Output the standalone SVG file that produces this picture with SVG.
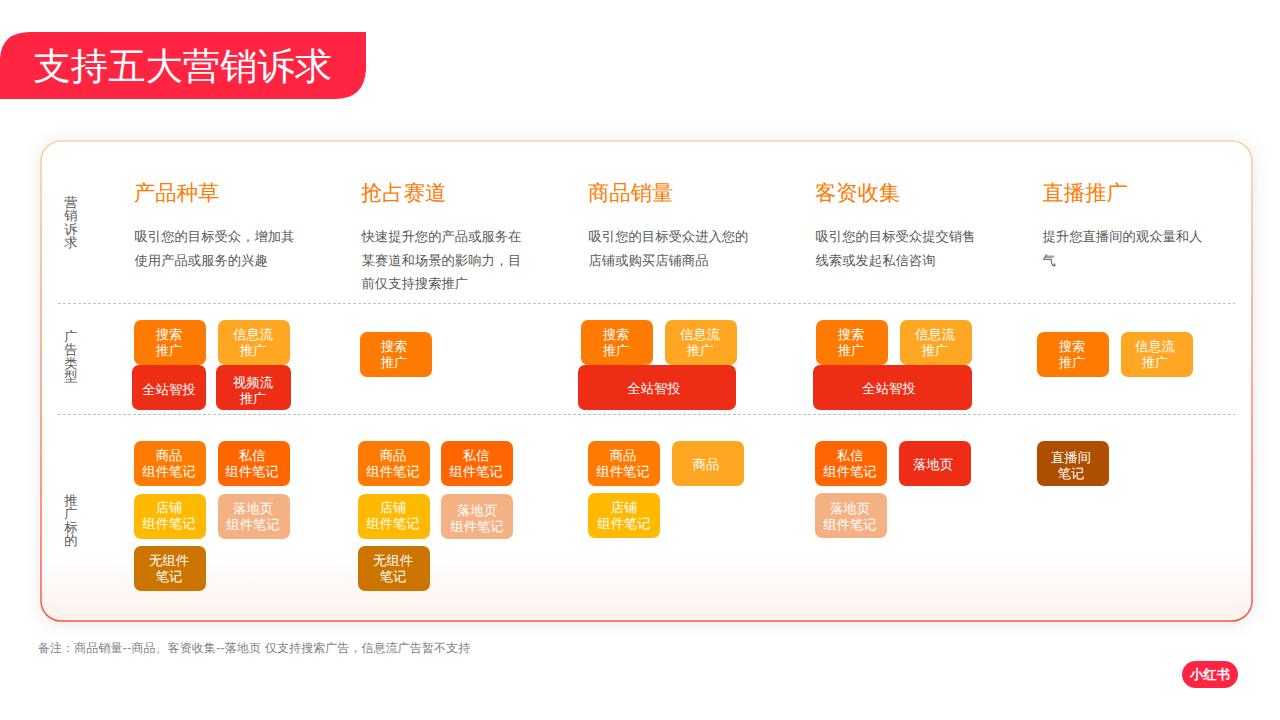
<svg xmlns="http://www.w3.org/2000/svg" width="1280" height="720" viewBox="0 0 1280 720">
<style>
text{font-family:"DejaVu Sans",sans-serif;text-rendering:geometricPrecision}
.h{font-size:21.33px;fill:#FF7A00}
.b{font-size:13.33px;fill:#595959}
.v{font-size:13.33px;fill:#595959;text-anchor:middle}
.t{font-size:13.33px;fill:#fff;text-anchor:middle}
.d{stroke:#bfbfbf;stroke-width:1;stroke-dasharray:3 2;fill:none}
.o{fill:#FF7A00}.a{fill:#FFA722}.r{fill:#EE2D16}.p{fill:#FF6600}.y{fill:#FFBA00}.s{fill:#F4B183}.n{fill:#CC7400}.l{fill:#AD4E00}
</style>
<defs>
<linearGradient id="st" x1="0" y1="0" x2="0" y2="1"><stop offset="0" stop-color="#FBD0A0"/><stop offset="1" stop-color="#FF5248"/></linearGradient>
<linearGradient id="fl" x1="0" y1="0" x2="0" y2="1"><stop offset="0.86" stop-color="#fff"/><stop offset="1" stop-color="#FEF2EC"/></linearGradient>
<filter id="sh" x="-5%" y="-10%" width="110%" height="120%"><feDropShadow dx="0" dy="2" stdDeviation="9" flood-color="#000" flood-opacity="0.09"/></filter>
</defs>
<rect width="1280" height="720" fill="#fff"/>
<g id="title">
<path d="M0 99V58Q2 32 30 32H366V70Q364 99 335 99Z" fill="#FF2442"/>
<text x="33.500" y="79" font-size="37.33" fill="#fff">支持五大营销诉求</text>
</g>
<g id="card"><rect x="41" y="141" width="1211" height="480" rx="20" fill="url(#fl)" stroke="url(#st)" stroke-width="1.5" filter="url(#sh)"/></g>
<g id="dividers"><path class="d" d="M58 303.5H1235"/><path class="d" d="M58 414.5H1235"/></g>
<g id="row-labels">
<text class="v"><tspan x="71" y="207">营</tspan><tspan x="71" y="220.300">销</tspan><tspan x="71" y="233.600">诉</tspan><tspan x="71" y="246.900">求</tspan></text>
<text class="v"><tspan x="71" y="341">广</tspan><tspan x="71" y="354.300">告</tspan><tspan x="71" y="367.600">类</tspan><tspan x="71" y="380.900">型</tspan></text>
<text class="v"><tspan x="71" y="505">推</tspan><tspan x="71" y="518.300">广</tspan><tspan x="71" y="531.600">标</tspan><tspan x="71" y="544.900">的</tspan></text>
</g>
<g id="col1-head"><text class="h" x="134" y="200">产品种草</text><text class="b" x="134.500" y="241">吸引您的目标受众，增加其</text><text class="b" x="134.500" y="265">使用产品或服务的兴趣</text></g>
<g id="col2-head"><text class="h" x="361" y="200">抢占赛道</text><text class="b" x="361.500" y="241">快速提升您的产品或服务在</text><text class="b" x="361.500" y="265">某赛道和场景的影响力，目</text><text class="b" x="361.500" y="288">前仅支持搜索推广</text></g>
<g id="col3-head"><text class="h" x="588" y="200">商品销量</text><text class="b" x="588.500" y="241">吸引您的目标受众进入您的</text><text class="b" x="588.500" y="265">店铺或购买店铺商品</text></g>
<g id="col4-head"><text class="h" x="815" y="200">客资收集</text><text class="b" x="815.500" y="241">吸引您的目标受众提交销售</text><text class="b" x="815.500" y="265">线索或发起私信咨询</text></g>
<g id="col5-head"><text class="h" x="1042.500" y="200">直播推广</text><text class="b" x="1042.500" y="241">提升您直播间的观众量和人</text><text class="b" x="1042.500" y="265">气</text></g>
<g id="c1-ad1"><rect class="o" x="134" y="320" width="72" height="45" rx="7"/><text class="t"><tspan x="169" y="339">搜索</tspan><tspan x="169" y="355">推广</tspan></text></g>
<g id="c1-ad2"><rect class="a" x="218" y="320" width="72" height="45" rx="7"/><text class="t"><tspan x="253" y="339">信息流</tspan><tspan x="253" y="355">推广</tspan></text></g>
<g id="c1-ad3"><rect class="r" x="132" y="365" width="74" height="45" rx="7"/><text class="t"><tspan x="169" y="394">全站智投</tspan></text></g>
<g id="c1-ad4"><rect class="r" x="216" y="365" width="75" height="45" rx="7"/><text class="t"><tspan x="253" y="387">视频流</tspan><tspan x="253" y="403">推广</tspan></text></g>
<g id="c2-ad1"><rect class="o" x="360" y="332" width="72" height="45" rx="7"/><text class="t"><tspan x="394" y="351">搜索</tspan><tspan x="394" y="367">推广</tspan></text></g>
<g id="c3-ad1"><rect class="o" x="581" y="320" width="72" height="45" rx="7"/><text class="t"><tspan x="616" y="339">搜索</tspan><tspan x="616" y="355">推广</tspan></text></g>
<g id="c3-ad2"><rect class="a" x="665" y="320" width="72" height="45" rx="7"/><text class="t"><tspan x="700" y="339">信息流</tspan><tspan x="700" y="355">推广</tspan></text></g>
<g id="c3-ad3"><rect class="r" x="578" y="365" width="158" height="45" rx="7"/><text class="t"><tspan x="654" y="393">全站智投</tspan></text></g>
<g id="c4-ad1"><rect class="o" x="816" y="320" width="72" height="45" rx="7"/><text class="t"><tspan x="851" y="339">搜索</tspan><tspan x="851" y="355">推广</tspan></text></g>
<g id="c4-ad2"><rect class="a" x="900" y="320" width="72" height="45" rx="7"/><text class="t"><tspan x="935" y="339">信息流</tspan><tspan x="935" y="355">推广</tspan></text></g>
<g id="c4-ad3"><rect class="r" x="813" y="365" width="159" height="45" rx="7"/><text class="t"><tspan x="889" y="393">全站智投</tspan></text></g>
<g id="c5-ad1"><rect class="o" x="1037" y="332" width="72" height="45" rx="7"/><text class="t"><tspan x="1072" y="351">搜索</tspan><tspan x="1072" y="367">推广</tspan></text></g>
<g id="c5-ad2"><rect class="a" x="1121" y="332" width="72" height="45" rx="7"/><text class="t"><tspan x="1155" y="351">信息流</tspan><tspan x="1155" y="367">推广</tspan></text></g>
<g id="c1-t1"><rect class="o" x="134" y="441" width="72" height="45" rx="7"/><text class="t"><tspan x="169" y="460">商品</tspan><tspan x="169" y="476">组件笔记</tspan></text></g>
<g id="c1-t2"><rect class="p" x="218" y="441" width="72" height="45" rx="7"/><text class="t"><tspan x="252" y="460">私信</tspan><tspan x="252" y="476">组件笔记</tspan></text></g>
<g id="c1-t3"><rect class="y" x="134" y="494" width="72" height="45" rx="7"/><text class="t"><tspan x="169" y="512">店铺</tspan><tspan x="169" y="528">组件笔记</tspan></text></g>
<g id="c1-t4"><rect class="s" x="218" y="494" width="72" height="45" rx="7"/><text class="t"><tspan x="253" y="513">落地页</tspan><tspan x="253" y="529">组件笔记</tspan></text></g>
<g id="c1-t5"><rect class="n" x="134" y="546" width="72" height="45" rx="7"/><text class="t"><tspan x="169" y="565">无组件</tspan><tspan x="169" y="581">笔记</tspan></text></g>
<g id="c2-t1"><rect class="o" x="358" y="441" width="72" height="45" rx="7"/><text class="t"><tspan x="393" y="460">商品</tspan><tspan x="393" y="476">组件笔记</tspan></text></g>
<g id="c2-t2"><rect class="p" x="441" y="441" width="72" height="45" rx="7"/><text class="t"><tspan x="476" y="460">私信</tspan><tspan x="476" y="476">组件笔记</tspan></text></g>
<g id="c2-t3"><rect class="y" x="358" y="494" width="72" height="45" rx="7"/><text class="t"><tspan x="393" y="512">店铺</tspan><tspan x="393" y="528">组件笔记</tspan></text></g>
<g id="c2-t4"><rect class="s" x="441" y="494" width="72" height="45" rx="7"/><text class="t"><tspan x="477" y="515">落地页</tspan><tspan x="477" y="531">组件笔记</tspan></text></g>
<g id="c2-t5"><rect class="n" x="358" y="546" width="72" height="45" rx="7"/><text class="t"><tspan x="393" y="565">无组件</tspan><tspan x="393" y="581">笔记</tspan></text></g>
<g id="c3-t1"><rect class="o" x="588" y="441" width="72" height="45" rx="7"/><text class="t"><tspan x="623" y="460">商品</tspan><tspan x="623" y="476">组件笔记</tspan></text></g>
<g id="c3-t2"><rect class="a" x="672" y="441" width="72" height="45" rx="7"/><text class="t"><tspan x="706" y="469">商品</tspan></text></g>
<g id="c3-t3"><rect class="y" x="588" y="493" width="72" height="45" rx="7"/><text class="t"><tspan x="624" y="512">店铺</tspan><tspan x="624" y="528">组件笔记</tspan></text></g>
<g id="c4-t1"><rect class="p" x="815" y="441" width="72" height="45" rx="7"/><text class="t"><tspan x="850" y="460">私信</tspan><tspan x="850" y="476">组件笔记</tspan></text></g>
<g id="c4-t2"><rect class="r" x="899" y="441" width="72" height="45" rx="7"/><text class="t"><tspan x="933" y="469">落地页</tspan></text></g>
<g id="c4-t3"><rect class="s" x="815" y="493" width="72" height="45" rx="7"/><text class="t"><tspan x="850" y="513">落地页</tspan><tspan x="850" y="529">组件笔记</tspan></text></g>
<g id="c5-t1"><rect class="l" x="1037" y="441" width="72" height="45" rx="7"/><text class="t"><tspan x="1071" y="462">直播间</tspan><tspan x="1071" y="478">笔记</tspan></text></g>
<g id="note"><text x="38" y="652" font-size="12" letter-spacing=".08" fill="#7f7f7f">备注：商品销量--商品、客资收集--落地页 仅支持搜索广告，信息流广告暂不支持</text></g>
<g id="logo"><rect x="1182" y="661" width="56" height="27" rx="13.500" fill="#FF2442"/><text x="1210" y="679" font-size="13.33" font-weight="700" fill="#fff" text-anchor="middle">小红书</text></g>
</svg>
